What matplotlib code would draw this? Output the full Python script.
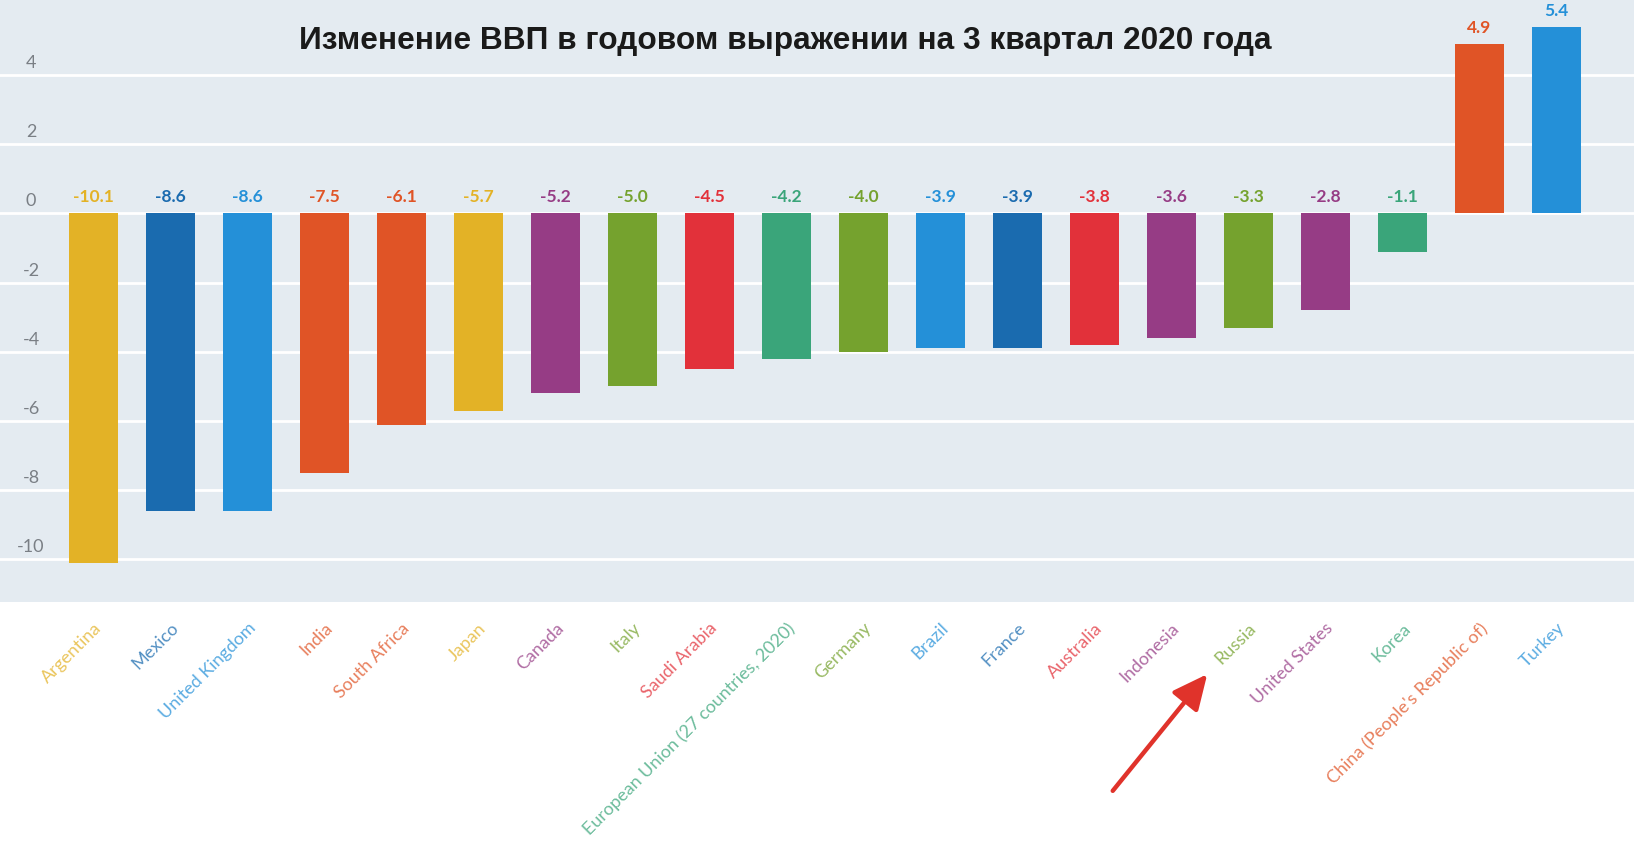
import matplotlib
matplotlib.use("Agg")
from matplotlib import pyplot as plt

countries = ["Argentina", "Mexico", "United Kingdom", "India", "South Africa", "Japan",
             "Canada", "Italy", "Saudi Arabia", "European Union (27 countries, 2020)",
             "Germany", "Brazil", "France", "Australia", "Indonesia", "Russia",
             "United States", "Korea", "China (People's Republic of)", "Turkey"]
values = [-10.1, -8.6, -8.6, -7.5, -6.1, -5.7, -5.2, -5.0, -4.5, -4.2,
          -4.0, -3.9, -3.9, -3.8, -3.6, -3.3, -2.8, -1.1, 4.9, 5.4]
colors = ["#e3b226", "#1a6baf", "#2490d8", "#e05426", "#e05426", "#e3b226",
          "#963c85", "#75a22e", "#e2313a", "#3aa57a", "#75a22e", "#2490d8",
          "#1a6baf", "#e2313a", "#963c85", "#75a22e", "#963c85", "#3aa57a",
          "#e05426", "#2490d8"]
yticks = [4, 2, 0, -2, -4, -6, -8, -10]
title = "Изменение ВВП в годовом выражении на 3 квартал 2020 года"

W, H = 1634, 843
fig = plt.figure(figsize=(W / 100, H / 100), dpi=100)
ax = fig.add_axes([0, 1 - 602 / H, 1, 602 / H])
ax.set_facecolor("#e4ebf1")
for s in ax.spines.values():
    s.set_visible(False)

x = list(range(len(countries)))
ax.bar(x, values, width=0.64, color=colors, zorder=3)
ax.set_xlim(-1.21, 20.01)
ax.set_ylim(-11.23, 6.17)

# сетка и подписи оси y внутри области
ax.set_yticks(yticks)
ax.set_yticklabels([])
ax.tick_params(axis="y", length=0)
ax.grid(axis="y", color="white", lw=2, zorder=0)
for t in yticks:
    ax.annotate(str(t), xy=(0, t), xycoords=("axes fraction", "data"),
                xytext=(31, 7), textcoords="offset pixels", ha="center", va="baseline",
                fontsize=13, color="#7a7f85", family="Lato")

# подписи значений
for i, v in enumerate(values):
    base = v if v > 0 else 0
    ax.annotate(f"{v:.1f}", xy=(i, base), xytext=(0, 11), textcoords="offset pixels",
                ha="center", va="baseline", fontsize=12.5, fontweight="bold",
                color=colors[i], family="Lato")

# подписи стран
ax.set_xticks(x)
ax.set_xticklabels(countries, rotation=45, ha="right", rotation_mode="anchor",
                   fontsize=13, family="Lato")
ax.tick_params(axis="x", length=0, pad=13)
for lab, c in zip(ax.get_xticklabels(), colors):
    lab.set_color(c)
    lab.set_alpha(0.75)

fig.text(785 / W, 1 - 41 / H, title, ha="center", va="center", fontsize=22.8,
         fontweight="bold", family="Liberation Sans", color="#1a1a1a")

# стрелка на Россию
fig.add_artist(matplotlib.patches.FancyArrowPatch(
    (1111 / W, 1 - 793 / H), (1209 / W, 1 - 672 / H), transform=fig.transFigure,
    arrowstyle="-|>,head_length=8.5,head_width=4", lw=3.2, color="#e0332b",
    mutation_scale=2.5))

fig.savefig("out.png", dpi=100, facecolor="white")
